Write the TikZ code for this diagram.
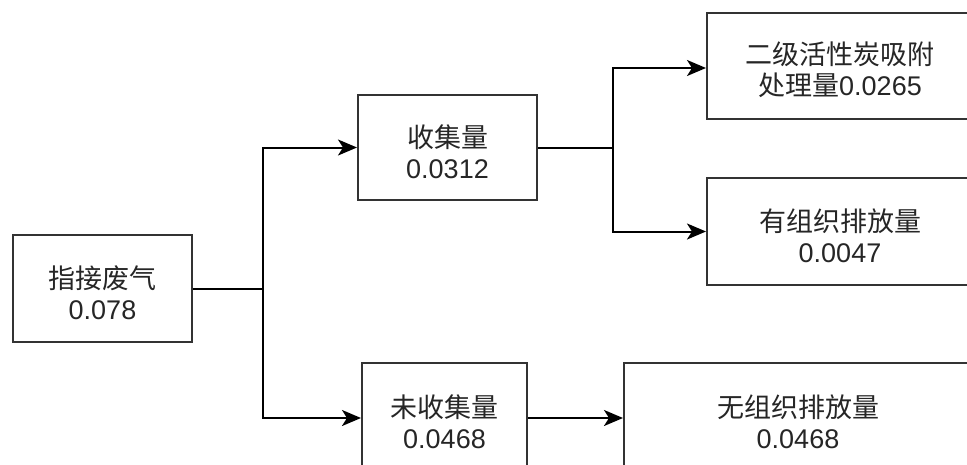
\documentclass[tikz,border=0pt]{standalone}
\usepackage{fontspec}
\setmainfont{Liberation Sans}
\newfontfamily\cjk{Noto Sans CJK SC}
\newcommand{\myup}{\rule{0pt}{31pt}}
\usetikzlibrary{arrows.meta}
\begin{document}
\begin{tikzpicture}[x=1pt,y=-1pt,
  box/.style={draw=black!80, line width=2pt, fill=white, rectangle, align=center,
    inner sep=0pt, font=\fontsize{27}{33}\selectfont, text=black!85},
  conn/.style={line width=2pt, draw=black, -{Stealth[length=19pt,width=16pt,inset=5pt]}},
  plain/.style={line width=2pt, draw=black}]
\useasboundingbox (0,0) rectangle (967,464);
\clip (0,0) rectangle (967,464);
\node[box, minimum width=179pt, minimum height=107pt] (src) at (102.5,288.5) {\myup\cjk 指接废气\\[-2pt]0.078};
\node[box, minimum width=179pt, minimum height=105pt] (col) at (447.5,147.5) {\myup\cjk 收集量\\[-2pt]0.0312};
\node[box, minimum width=266pt, minimum height=106pt] (ads) at (840,66) {\myup\cjk 二级活性炭吸附\\[-2pt]{\cjk 处理量}0.0265};
\node[box, minimum width=266pt, minimum height=107pt] (org) at (840,231.5) {\myup\cjk 有组织排放量\\[-2pt]0.0047};
\node[box, minimum width=165pt, minimum height=110pt] (unc) at (444.5,418) {\myup\cjk 未收集量\\[-2pt]0.0468};
\node[box, minimum width=348pt, minimum height=110pt] (fug) at (798,418) {\myup\cjk 无组织排放量\\[-2pt]0.0468};
\coordinate (j1) at (263,288.5);
\coordinate (j2) at (613,147.5);
\draw[plain] (src.east) -- (j1);
\draw[conn] (j1) |- (col.west);
\draw[conn] (j1) |- (unc.west);
\draw[plain] (col.east) -- (j2);
\draw[conn] (j2) |- ([yshift=-2pt]ads.west);
\draw[conn] (j2) |- (org.west);
\draw[conn] (unc.east) -- (fug.west);
\end{tikzpicture}
\end{document}
